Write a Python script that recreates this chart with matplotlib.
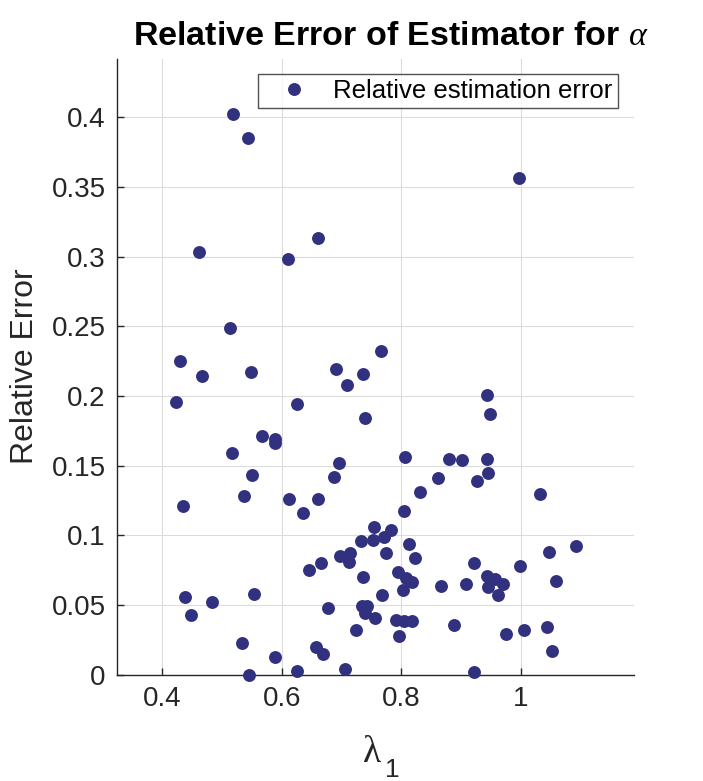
import matplotlib
matplotlib.use("Agg")
import matplotlib.pyplot as plt
import numpy as np

plt.rcParams['font.family'] = ['Liberation Sans', 'DejaVu Sans']
plt.rcParams['mathtext.fontset'] = 'custom'
plt.rcParams['mathtext.rm'] = 'Liberation Sans'
plt.rcParams['mathtext.it'] = 'Liberation Serif:italic'
plt.rcParams['mathtext.bf'] = 'Liberation Sans:bold'

lambda1 = [0.518, 0.544, 0.461, 0.610, 0.660, 0.514, 0.429, 0.548, 0.690, 0.766,
           0.996, 0.467, 0.709, 0.736, 0.423, 0.626, 0.739, 0.567, 0.589, 0.588,
           0.517, 0.695, 0.551, 0.688, 0.536, 0.612, 0.661, 0.435, 0.635, 0.754,
           0.732, 0.753, 0.698, 0.714, 0.713, 0.666, 0.646, 0.735, 0.439, 0.483,
           0.448, 0.554, 0.678, 0.734, 0.743, 0.739, 0.756, 0.724, 0.534, 0.588,
           0.657, 0.669, 0.626, 0.705, 0.546, 0.768, 0.943, 0.948, 0.806, 0.880,
           0.901, 0.943, 0.945, 0.861, 0.927, 1.031, 0.831, 0.804, 0.783, 0.771,
           0.813, 1.092, 1.047, 0.775, 0.823, 0.921, 0.999, 0.794, 0.808, 0.818,
           0.803, 0.867, 0.908, 0.943, 0.956, 0.944, 0.969, 0.962, 1.059, 0.791,
           0.805, 0.818, 0.796, 0.888, 0.975, 1.005, 1.043, 1.051, 0.922]
rel_err = [0.402, 0.385, 0.303, 0.298, 0.313, 0.249, 0.225, 0.217, 0.219, 0.232,
           0.356, 0.214, 0.208, 0.2155, 0.196, 0.194, 0.184, 0.171, 0.169, 0.166,
           0.159, 0.152, 0.143, 0.142, 0.1285, 0.126, 0.126, 0.121, 0.116, 0.106,
           0.096, 0.097, 0.085, 0.0877, 0.0806, 0.080, 0.075, 0.070, 0.056, 0.052,
           0.043, 0.058, 0.048, 0.049, 0.049, 0.044, 0.041, 0.032, 0.023, 0.0125,
           0.020, 0.0146, 0.0027, 0.0039, 0.0, 0.057, 0.201, 0.187, 0.156, 0.155,
           0.154, 0.155, 0.1445, 0.141, 0.139, 0.130, 0.131, 0.1175, 0.1036, 0.099,
           0.094, 0.0926, 0.088, 0.087, 0.084, 0.080, 0.078, 0.0735, 0.0694, 0.0668,
           0.0606, 0.064, 0.065, 0.071, 0.069, 0.063, 0.065, 0.057, 0.067, 0.0395,
           0.0383, 0.0383, 0.0275, 0.0355, 0.029, 0.032, 0.034, 0.017, 0.002]

xticks = [0.4, 0.6, 0.8, 1.0]
xticklabels = ['0.4', '0.6', '0.8', '1']
yticks = [0, 0.05, 0.1, 0.15, 0.2, 0.25, 0.3, 0.35, 0.4]
yticklabels = ['0', '0.05', '0.1', '0.15', '0.2', '0.25', '0.3', '0.35', '0.4']

fig = plt.figure(figsize=(7.03, 7.81), dpi=100)
ax = fig.add_axes([0.166, 0.136, 0.736, 0.789])

dot = '#31317F'
ax.plot(lambda1, rel_err, 'o', color=dot, markersize=9.3, markeredgewidth=0,
        linestyle='none', label='Relative estimation error', clip_on=False, zorder=3)

ax.set_xlim(0.324, 1.189)
ax.set_ylim(0, 0.442)
ax.set_xticks(xticks)
ax.set_xticklabels(xticklabels)
ax.set_yticks(yticks)
ax.set_yticklabels(yticklabels)

ax.grid(True, color='#DCDCDC', linewidth=0.8)
ax.set_axisbelow(True)
for s in ['top', 'right']:
    ax.spines[s].set_visible(False)
for s in ['left', 'bottom']:
    ax.spines[s].set_color('#262626')
    ax.spines[s].set_linewidth(1.0)
ax.tick_params(direction='in', length=5, width=1.0, colors='#262626',
               labelsize=20, labelcolor='#262626', pad=8)

ax.set_title(r'Relative Error of Estimator for $\alpha$', fontsize=24.5,
             fontweight='bold', pad=10, x=0.53)
ax.set_ylabel('Relative Error', fontsize=23, color='#262626', labelpad=8)
ax.set_xlabel('λ', fontsize=27, color='#262626', labelpad=17,
              family=['Liberation Serif', 'DejaVu Serif'], x=0.494)
fig.text(385 / 703, 1 - 777 / 781, '1', fontsize=19, color='#262626',
         ha='left', va='baseline')

leg = ax.legend(loc='upper right', bbox_to_anchor=(0.9685, 0.9757), fontsize=18.5,
                frameon=True, fancybox=False, edgecolor='#262626',
                handletextpad=0.3, borderpad=0.2, handlelength=2.45, borderaxespad=0)
leg.get_frame().set_linewidth(1.0)

fig.savefig('out.png', dpi=100)
